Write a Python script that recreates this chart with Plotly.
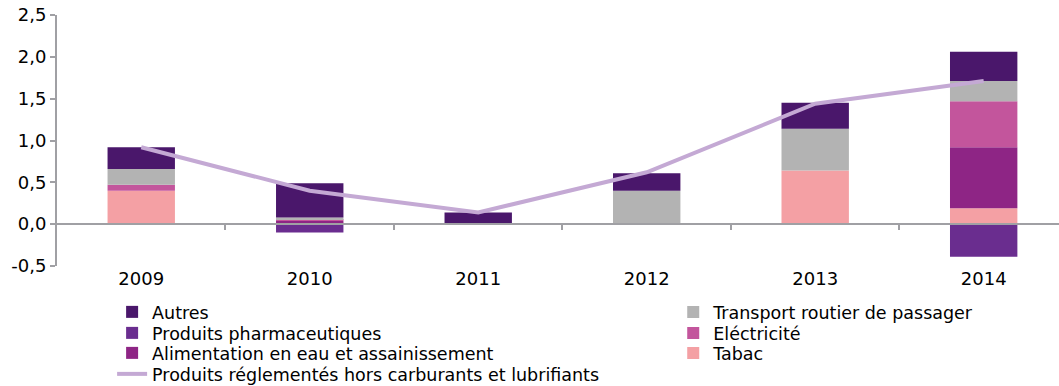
import plotly.graph_objects as go

years = ["2009", "2010", "2011", "2012", "2013", "2014"]

# contributions, stacked from the bottom up
tabac = [0.40, 0.02, 0.00, 0.00, 0.64, 0.19]
eau = [0.00, 0.02, 0.00, 0.00, 0.00, 0.73]
electricite = [0.07, 0.02, 0.00, 0.00, 0.00, 0.55]
pharma = [0.00, -0.10, 0.00, 0.00, 0.00, -0.39]
transport = [0.19, 0.02, 0.00, 0.40, 0.50, 0.24]
autres = [0.26, 0.41, 0.14, 0.21, 0.31, 0.35]
total_hors_carburants = [0.92, 0.40, 0.14, 0.62, 1.44, 1.71]

y_ticks = [-0.5, 0.0, 0.5, 1.0, 1.5, 2.0, 2.5]
y_tick_text = ["-0,5", "0,0", "0,5", "1,0", "1,5", "2,0", "2,5"]

FONT = "DejaVu Sans"
AXIS_GREY = "#a0a0a4"

x = list(range(len(years)))
y_range = [-0.5, 2.5]
x_range = [-0.5, 5.447]

MARGIN_T, MARGIN_B, HEIGHT = 15, 120, 386
plot_h = HEIGHT - MARGIN_T - MARGIN_B


def paper_y(px):
    """Convert a pixel row of the page into paper coordinates."""
    return (HEIGHT - MARGIN_B - px) / plot_h


fig = go.Figure()

# (name, values, colour, legend id)
bar_series = [
    ("Tabac", tabac, "#f4a0a4", "legend6"),
    ("Alimentation en eau et assainissement", eau, "#8e2585", "legend5"),
    ("Eléctricité", electricite, "#c3559c", "legend4"),
    ("Produits pharmaceutiques", pharma, "#6a2d8f", "legend3"),
    ("Transport routier de passager", transport, "#b3b3b3", "legend2"),
    ("Autres", autres, "#4a176b", "legend"),
]
for name, vals, color, lg in bar_series:
    fig.add_trace(go.Bar(
        x=x, y=vals, name=name, width=0.4,
        marker=dict(color=color, line=dict(width=0)),
        legend=lg,
    ))

fig.add_trace(go.Scatter(
    x=x, y=total_hors_carburants,
    name="Produits réglementés hors carburants et lubrifiants",
    mode="lines", line=dict(color="#c4a9d4", width=4),
    legend="legend7",
))

# hidden companion trace so the zero axis (x2) gets drawn
fig.add_trace(go.Scatter(
    x=x, y=total_hors_carburants, xaxis="x2", mode="lines",
    line=dict(width=0), opacity=0, showlegend=False, hoverinfo="skip",
))

zero_pos = (0 - y_range[0]) / (y_range[1] - y_range[0])

left_x, right_x = 0.055, 0.615
rows = [312, 333, 353, 374]
legend_slots = {
    "legend": (left_x, rows[0]),
    "legend2": (right_x, rows[0]),
    "legend3": (left_x, rows[1]),
    "legend4": (right_x, rows[1]),
    "legend5": (left_x, rows[2]),
    "legend6": (right_x, rows[2]),
    "legend7": (left_x, rows[3]),
}
legend_layout = {
    key: dict(
        x=lx, xanchor="left", y=paper_y(py), yanchor="middle",
        orientation="v", font=dict(size=17.5, family=FONT),
        bgcolor="rgba(0,0,0,0)", itemwidth=30,
    )
    for key, (lx, py) in legend_slots.items()
}

fig.update_layout(
    barmode="relative",
    width=1059, height=HEIGHT,
    margin=dict(l=57, r=0, t=MARGIN_T, b=MARGIN_B, autoexpand=False),
    plot_bgcolor="white", paper_bgcolor="white",
    font=dict(family=FONT, size=18, color="#000000"),
    xaxis=dict(
        range=x_range, tickvals=x, ticktext=years,
        showline=False, showgrid=False, zeroline=False, ticks="",
        tickfont=dict(size=18),
    ),
    xaxis2=dict(
        overlaying="x", anchor="free", position=zero_pos,
        range=x_range, tickvals=[i + 0.5 for i in x[:-1]],
        showticklabels=False, showgrid=False, zeroline=False,
        showline=True, linecolor=AXIS_GREY, linewidth=2,
        ticks="outside", ticklen=5, tickwidth=2, tickcolor=AXIS_GREY,
    ),
    yaxis=dict(
        range=y_range, tickvals=y_ticks, ticktext=y_tick_text,
        showgrid=False, zeroline=False,
        showline=True, linecolor=AXIS_GREY, linewidth=2,
        ticks="outside", ticklen=5, tickwidth=2, tickcolor=AXIS_GREY,
        tickfont=dict(size=18),
    ),
    showlegend=True,
    **legend_layout,
)

fig.write_html("out.html")
